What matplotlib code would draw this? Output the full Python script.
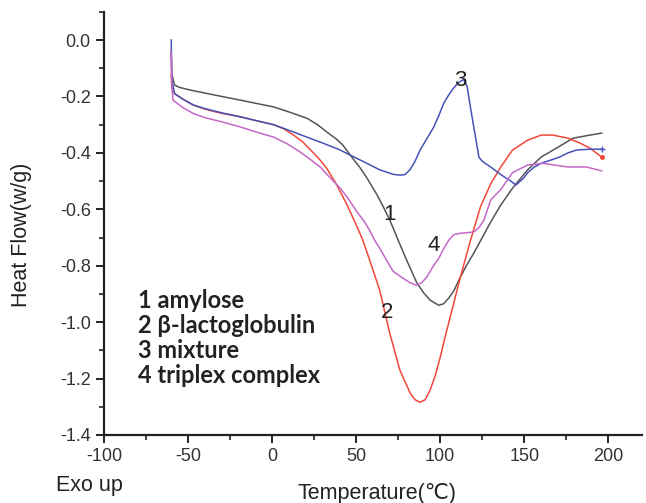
import matplotlib
matplotlib.use("Agg")
import matplotlib.pyplot as plt
from matplotlib.ticker import MultipleLocator

plt.rcParams['font.family'] = ['Liberation Sans', 'DejaVu Sans']

# ── data ─────────────────────────────────────────────────────────────────────
amylose_t = [-60, -59.7, -58, -55, -49, -40, -30, -19, -10, 0.8, 10, 20.6, 27, 32.5,
             38, 42, 48, 52, 56.5, 62.5, 66, 70, 75, 80, 86, 90, 94, 99, 102, 105,
             108, 112, 116, 120, 125, 130, 136, 143, 152, 160, 170, 179, 189, 196]
amylose_q = [-0.04, -0.12, -0.16, -0.168, -0.177, -0.188, -0.20, -0.213, -0.224,
             -0.237, -0.255, -0.277, -0.30, -0.326, -0.35, -0.372, -0.42, -0.45,
             -0.49, -0.55, -0.59, -0.638, -0.71, -0.78, -0.86, -0.895, -0.922, -0.94,
             -0.935, -0.915, -0.89, -0.84, -0.795, -0.755, -0.70, -0.645, -0.585,
             -0.525, -0.46, -0.415, -0.38, -0.348, -0.337, -0.33]

blg_t = [-60, -59.7, -58, -53, -47, -40, -30, -19, -10, 0.8, 7, 12.7, 18, 24.6, 28.6,
         32.5, 38.5, 44.6, 50, 54, 58, 64, 70, 76, 82, 85, 88, 91, 94, 97, 100, 103,
         106, 109, 112, 115, 118, 121, 124, 130, 136, 143, 152, 160, 167, 176, 183,
         189, 196]
blg_q = [-0.12, -0.17, -0.19, -0.21, -0.23, -0.245, -0.26, -0.272, -0.285, -0.30,
         -0.315, -0.337, -0.36, -0.40, -0.426, -0.455, -0.514, -0.585, -0.655, -0.71,
         -0.78, -0.887, -1.04, -1.17, -1.25, -1.275, -1.284, -1.275, -1.24, -1.19,
         -1.124, -1.05, -0.98, -0.91, -0.84, -0.775, -0.71, -0.65, -0.59, -0.51,
         -0.45, -0.39, -0.355, -0.337, -0.337, -0.348, -0.365, -0.383, -0.415]

mix_t = [-60, -59.7, -58, -53, -47, -40, -30, -19, -10, 0.8, 10, 20.6, 30, 40.5,
         46.4, 54, 64, 72, 76, 79, 82, 85, 88, 92, 96, 99, 102, 105, 108, 111, 114,
         116, 118, 120, 123, 125, 130, 134, 138, 142, 145, 149.5, 152, 156, 160, 166,
         171, 176, 181, 189, 196]
mix_q = [0.0, -0.14, -0.19, -0.21, -0.23, -0.243, -0.258, -0.272, -0.285, -0.30,
         -0.32, -0.344, -0.365, -0.39, -0.408, -0.43, -0.46, -0.476, -0.479, -0.477,
         -0.46, -0.43, -0.39, -0.35, -0.31, -0.27, -0.225, -0.195, -0.17, -0.15,
         -0.14, -0.165, -0.24, -0.31, -0.415, -0.43, -0.45, -0.468, -0.485, -0.50,
         -0.514, -0.49, -0.47, -0.45, -0.437, -0.425, -0.415, -0.40, -0.39, -0.387,
         -0.387]

triplex_t = [-60, -59.7, -59, -53, -47, -40, -30, -19, -10, 0.8, 9, 16.7, 22, 28.6,
             34, 40.5, 45, 50.6, 55, 58, 61, 64, 68, 72, 78, 82, 86, 89, 92, 96, 99,
             102, 105, 108, 112, 116, 120, 123, 126, 130, 136, 143, 152, 161, 170,
             176, 187, 196]
triplex_q = [-0.04, -0.15, -0.213, -0.24, -0.26, -0.275, -0.29, -0.308, -0.325,
             -0.344, -0.368, -0.397, -0.42, -0.45, -0.485, -0.525, -0.56, -0.61,
             -0.645, -0.675, -0.71, -0.738, -0.78, -0.82, -0.845, -0.86, -0.87,
             -0.86, -0.84, -0.80, -0.775, -0.74, -0.71, -0.69, -0.685, -0.683, -0.68,
             -0.665, -0.638, -0.567, -0.53, -0.47, -0.443, -0.437, -0.445, -0.45,
             -0.45, -0.464]

legend_lines = ['1 amylose', '2 \u03b2-lactoglobulin', '3 mixture', '4 triplex complex']

fig = plt.figure(figsize=(6.46, 5.03), dpi=100)
ax = fig.add_axes([104/646, 1 - 435/503, 538/646, 423.2/503])

ax.plot(amylose_t, amylose_q, color='#555555', lw=1.1)
ax.plot(blg_t, blg_q, color='#f2473a', lw=1.1)
ax.plot(mix_t, mix_q, color='#4652b8', lw=1.1)
ax.plot(triplex_t, triplex_q, color='#c468c8', lw=1.1)
ax.plot(blg_t[-1], blg_q[-1], 'o', color='#f2473a', ms=2.5)
ax.plot(mix_t[-1], mix_q[-1], '+', color='#4652b8', ms=4)

# curve numbers
for lbl, x, y in [('1', 70, -0.62), ('2', 68.5, -0.965), ('3', 112, -0.142), ('4', 96, -0.73)]:
    ax.text(x, y, lbl, fontsize=16, ha='center', va='center', color='#222222')

for i, s in enumerate(legend_lines):
    ax.text(0.063, 0.317 - i*0.0585, s, transform=ax.transAxes, fontsize=17,
            fontweight='bold', family=['Lato', 'DejaVu Sans'], va='center', ha='left',
            color='#222222')

ax.set_xlim(-100, 220)
ax.set_ylim(-1.4, 0.1)
ax.xaxis.set_minor_locator(MultipleLocator(25))
ax.yaxis.set_minor_locator(MultipleLocator(0.1))
ax.set_yticks([-1.4, -1.2, -1.0, -0.8, -0.6, -0.4, -0.2, 0.0])
ax.set_yticklabels(['-1.4', '-1.2', '-1.0', '-0.8', '-0.6', '-0.4', '-0.2', '0.0'])
ax.set_xticks([-100, -50, 0, 50, 100, 150, 200])
ax.set_xticklabels(['-100', '-50', '0', '50', '100', '150', '200'])

for side in ['top', 'right']:
    ax.spines[side].set_visible(False)
for side in ['left', 'bottom']:
    ax.spines[side].set_linewidth(1.6)
    ax.spines[side].set_color('#222222')
ax.tick_params(which='major', direction='out', length=6, width=1.4, labelsize=13,
               colors='#222222', labelcolor='#333333')
ax.tick_params(which='minor', direction='out', length=3.5, width=1.2, colors='#222222')

ax.set_xlabel('Temperature(\u2103)', fontsize=15.5, color='#222222')
ax.set_ylabel('Heat Flow(w/g)', fontsize=15.5, color='#222222')
ax.xaxis.set_label_coords(0.507, -0.113)
ax.yaxis.set_label_coords(-0.134, 0.473)

fig.text(89/646, 1 - 485/503, 'Exo up', fontsize=15.5, ha='center', va='center',
         color='#222222')

fig.savefig('out.png', dpi=100)
